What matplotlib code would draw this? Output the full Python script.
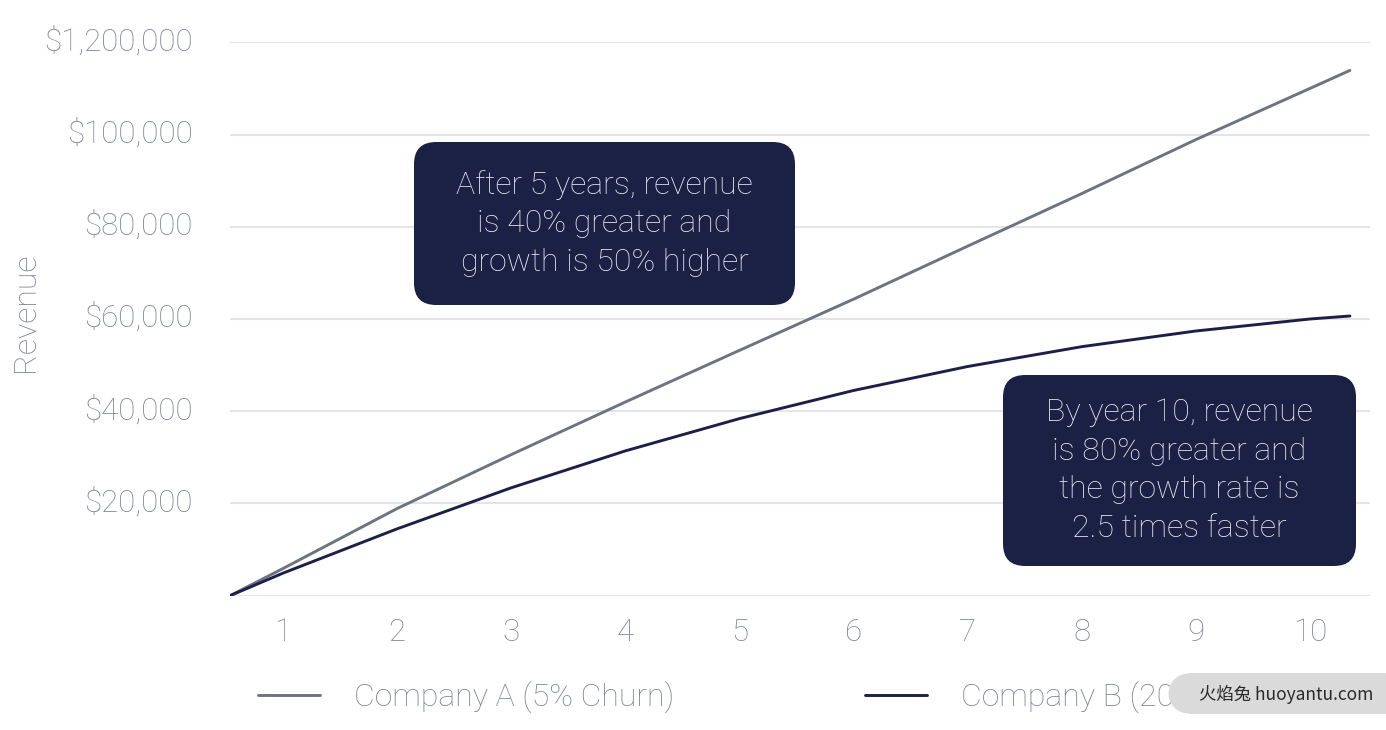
import matplotlib.pyplot as plt
from matplotlib.patches import FancyBboxPatch
from matplotlib.transforms import ScaledTranslation

plt.rcParams['font.family'] = ['Roboto', 'DejaVu Sans']
plt.rcParams['font.weight'] = 'light'
plt.rcParams['axes.labelweight'] = 'light'

# years (continuous axis), revenue per company
years = [0.535, 1, 2, 3, 4, 5, 6, 7, 8, 9, 10, 10.35]
company_a = [0, 5900, 18900, 30600, 42000, 53200, 64300, 75800, 87200, 98900, 110000, 113900]
company_b = [0, 4900, 14500, 23400, 31400, 38400, 44500, 49700, 54000, 57400, 60000, 60650]

x_ticks = [1, 2, 3, 4, 5, 6, 7, 8, 9, 10]
y_ticks = [0, 20000, 40000, 60000, 80000, 100000, 120000]
y_labels = ['', '$20,000', '$40,000', '$60,000', '$80,000', '$100,000', '$1,200,000']

note_5 = "After 5 years, revenue\nis 40% greater and\ngrowth is 50% higher"
note_10 = "By year 10, revenue\nis 80% greater and\nthe growth rate is\n2.5 times faster"

grey_txt = '#7f8494'
col_a = '#6e7382'
col_b = '#1c2048'
box_col = '#1b2045'

W, H = 1386, 730
fig = plt.figure(figsize=(13.86, 7.30), dpi=100)
ax = fig.add_axes([230/W, 1 - 595.7/H, 1140/W, (595.7 - 42.3)/H])

la, = ax.plot(years, company_a, color=col_a, lw=2.1, solid_capstyle='round', label='Company A (5% Churn)')
lb, = ax.plot(years, company_b, color=col_b, lw=2.1, solid_capstyle='round', label='Company B (20% Churn)')

ax.set_xlim(0.535, 10.526)
ax.set_ylim(0, 120000)
ax.set_xticks(x_ticks)
ax.set_yticks(y_ticks)
ax.set_yticklabels(y_labels)
ax.grid(axis='y', color='#e4e5e9', lw=1.5)
ax.set_axisbelow(True)
for s in ax.spines.values():
    s.set_visible(False)
ax.tick_params(axis='both', length=0, labelsize=22.5, labelcolor=grey_txt)
ax.tick_params(axis='y', pad=27)
ax.tick_params(axis='x', pad=16)
# labels sit a little above their grid lines in the original
lift = ScaledTranslation(0, 3 / 72, fig.dpi_scale_trans)
for t in ax.get_yticklabels():
    t.set_transform(t.get_transform() + lift)
ax.set_ylabel('Revenue', fontsize=23, color=grey_txt)
ax.yaxis.set_label_coords(-0.167, 0.513)


def note(cx, cy, w, h, txt):
    # box given in figure pixels from top-left
    box = FancyBboxPatch(((cx - w / 2) / W, 1 - (cy + h / 2) / H), w / W, h / H,
                         boxstyle='round,pad=0,rounding_size=0.016', mutation_aspect=W / H,
                         transform=fig.transFigure, fc=box_col, ec='none', zorder=5)
    fig.add_artist(box)
    fig.text(cx / W, 1 - cy / H, txt, ha='center', va='center', fontsize=23,
             color='#e3e6ee', linespacing=1.41, zorder=6)


note(604.5, 223.5, 381, 163, note_5)
note(1179.5, 470.5, 353, 191, note_10)

leg_a = fig.legend(handles=[la], loc='center left', bbox_to_anchor=(258/W, 1 - 697/H),
                   frameon=False, fontsize=23, labelcolor=grey_txt, borderpad=0,
                   borderaxespad=0, handlelength=1.95, handletextpad=1.05)
leg_b = fig.legend(handles=[lb], loc='center left', bbox_to_anchor=(865/W, 1 - 697/H),
                   frameon=False, fontsize=23, labelcolor=grey_txt, borderpad=0,
                   borderaxespad=0, handlelength=1.95, handletextpad=1.05)

# watermark overlay
wm = FancyBboxPatch((1168/W, 1 - 714/H), 240/W, 41/H,
                    boxstyle='round,pad=0,rounding_size=0.018', mutation_aspect=W / H,
                    transform=fig.transFigure, fc='#dadada', ec='none', zorder=20)
fig.add_artist(wm)
fig.text(1286/W, 1 - 694/H, '火焰兔 huoyantu.com', ha='center', va='center',
         fontsize=12.5, color='#2a2a2a', family=['Noto Sans CJK SC', 'DejaVu Sans'],
         zorder=21)

fig.savefig('out.png', dpi=100)
